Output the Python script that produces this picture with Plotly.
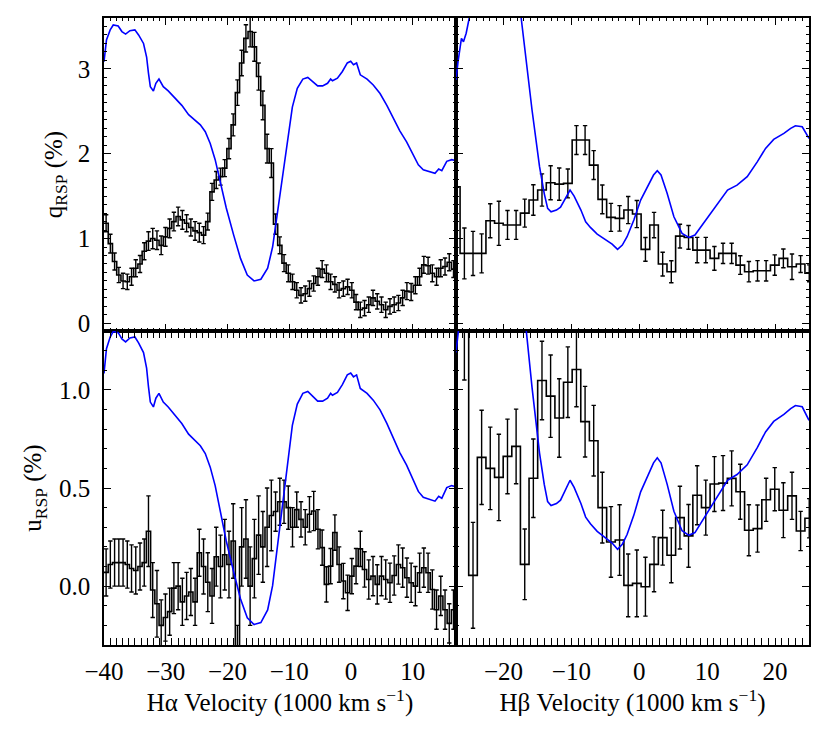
import numpy as np
import plotly.graph_objects as go

# ---------------- data ----------------
# H-alpha bins (1000 km/s)
HA_BIN_START = -40.0
HA_BIN_WIDTH = 0.686
q_ha = [1.18, 0.94, 0.73, 0.57, 0.50, 0.49, 0.55, 0.65, 0.70, 0.85, 0.97, 1.00, 0.98, 0.92, 1.02,
        1.12, 1.20, 1.26, 1.22, 1.18, 1.13, 1.09, 1.07, 1.04, 1.20, 1.55, 1.69, 1.73, 1.83, 2.06,
        2.34, 2.72, 3.07, 3.36, 3.44, 3.26, 2.91, 2.57, 2.06, 1.89, 1.17,
        0.92, 0.71, 0.59, 0.49, 0.39, 0.33, 0.35, 0.41, 0.47, 0.55, 0.64, 0.59, 0.49, 0.46, 0.39,
        0.41, 0.43, 0.39, 0.25, 0.16, 0.18, 0.22, 0.30, 0.26, 0.22, 0.16, 0.20, 0.22, 0.24, 0.30,
        0.38, 0.37, 0.45, 0.55, 0.69, 0.68, 0.59, 0.55, 0.65, 0.67, 0.72, 0.64, 0.49]
q_ha_err = [0.10, 0.11, 0.10, 0.09, 0.09, 0.09, 0.10, 0.10, 0.10, 0.10, 0.11, 0.12, 0.11, 0.11, 0.11,
            0.11, 0.11, 0.11, 0.11, 0.10, 0.10, 0.11, 0.11, 0.10, 0.10,
            0.10, 0.10, 0.10, 0.10, 0.12, 0.13, 0.15, 0.15, 0.16, 0.18, 0.17, 0.16, 0.17, 0.17, 0.17, 0.12,
            0.10, 0.10, 0.10, 0.09, 0.09, 0.09, 0.09, 0.09, 0.09, 0.10, 0.10, 0.10, 0.09, 0.09, 0.09,
            0.09, 0.09, 0.09, 0.09, 0.09, 0.09, 0.09, 0.09, 0.09, 0.09, 0.09, 0.09, 0.09, 0.09, 0.09,
            0.10, 0.10, 0.10, 0.10, 0.10, 0.10, 0.10, 0.10, 0.10, 0.10, 0.10, 0.10, 0.10]
u_ha = [0.07, 0.11, 0.12, 0.12, 0.12, 0.11, 0.09, 0.08, 0.10, 0.12, 0.28, -0.02, -0.09, -0.20, -0.16,
        -0.13, -0.01, 0.00, -0.08, -0.05, -0.03, -0.08, 0.17, 0.10, 0.02, -0.05, 0.15, 0.10, 0.16, 0.11,
        0.23, -0.40, 0.20, 0.24, 0.00, 0.14, 0.26, 0.20, 0.30, 0.36,
        0.38, 0.43, 0.43, 0.40, 0.30, 0.39, 0.34, 0.30, 0.366, 0.383, 0.29, 0.196, 0.009, 0.102, 0.273,
        0.11, 0.026, -0.034, 0.051, 0.102, 0.19, 0.085, 0.034, 0.051, 0.009, 0.051, 0.034, 0.017, 0.054,
        0.11, 0.094, 0.043, 0.017, 0.0, 0.068, 0.094, 0.068, -0.017, -0.12, -0.05, -0.12, -0.19, -0.12, -0.15]
u_ha_err = [0.12, 0.12, 0.12, 0.12, 0.12, 0.12, 0.12, 0.12, 0.12, 0.12, 0.18,
            0.14, 0.17, 0.13, 0.12, 0.12, 0.13, 0.12, 0.12, 0.12, 0.12, 0.12,
            0.12, 0.14, 0.15, 0.14, 0.15, 0.16, 0.18, 0.17, 0.19, 0.20, 0.20, 0.20, 0.20, 0.20, 0.20, 0.18, 0.20, 0.18,
            0.10, 0.12, 0.11, 0.11, 0.10, 0.09, 0.09, 0.09, 0.09, 0.10, 0.10, 0.09, 0.09, 0.09, 0.09,
            0.09, 0.09, 0.09, 0.09, 0.09, 0.09, 0.09, 0.10, 0.10, 0.10, 0.10, 0.10, 0.10, 0.10, 0.10,
            0.10, 0.10, 0.10, 0.10, 0.10, 0.10, 0.10, 0.10, 0.10, 0.10, 0.10, 0.10, 0.10, 0.10]

# H-beta bins (1000 km/s)
HB_BIN_START = -27.67
HB_BIN_WIDTH = 1.27
q_hb = [1.61, 0.825, 0.825, 0.825, 1.21, 1.18, 1.16, 1.16, 1.30, 1.454, 1.572, 1.658, 1.642, 1.65,
        2.161, 2.161, 1.866, 1.462, 1.249, 1.238, 1.336, 1.289, 0.872, 1.159, 0.699, 0.609, 1.029,
        1.013, 0.864, 0.864, 0.766, 0.825, 0.825, 0.687, 0.609, 0.62, 0.62, 0.687, 0.766, 0.667,
        0.699, 0.59]
q_hb_err = [0.30, 0.30, 0.26, 0.23, 0.20, 0.26, 0.17, 0.17, 0.165, 0.18, 0.19, 0.20, 0.19, 0.17,
            0.17, 0.17, 0.17, 0.17, 0.165, 0.15, 0.16, 0.16, 0.14, 0.15, 0.14, 0.13, 0.14,
            0.14, 0.15, 0.15, 0.14, 0.12, 0.12, 0.11, 0.12, 0.12, 0.12, 0.12, 0.11, 0.15,
            0.10, 0.10]
u_hb = [1.45, 1.60, 0.055, 0.656, 0.600, 0.554, 0.661, 0.712, 0.111, 0.550, 1.048, 0.968, 0.857,
        1.039, 1.104, 0.838, 0.741, 0.400, 0.225, 0.235, 0.004, 0.014, -0.003, 0.111, 0.247, 0.157,
        0.349, 0.256, 0.463, 0.400, 0.520, 0.525, 0.549, 0.481, 0.285, 0.293, 0.440, 0.494, 0.387,
        0.460, 0.281, 0.346]
u_hb_err = [0.35, 0.55, 0.27, 0.24, 0.21, 0.22, 0.19, 0.19, 0.18, 0.20, 0.20, 0.21, 0.20, 0.18,
            0.19, 0.18, 0.18, 0.18, 0.18, 0.18, 0.16, 0.17, 0.15, 0.14, 0.14, 0.14, 0.16, 0.16,
            0.15, 0.14, 0.14, 0.14, 0.14, 0.14, 0.13, 0.12, 0.11, 0.11, 0.14, 0.12, 0.10, 0.10]

# flux spectra (scaled to the q panels)
ha_vel = [-40.0, -39.6, -39.0, -38.5, -37.7, -37.1, -36.5, -35.8, -35.0, -34.4, -33.6, -33.1, -32.8,
          -32.5, -32.0, -31.6, -31.1, -30.4, -29.6, -28.5, -27.4, -26.3, -25.2, -24.4, -23.6, -22.8,
          -22.0, -21.2, -20.2, -19.0, -17.9, -16.8, -15.7, -14.6, -13.5, -12.7, -11.9, -11.1, -10.3,
          -9.5, -8.7, -7.8, -7.0, -6.2, -5.4, -4.6, -3.8, -3.3, -3.0, -2.2, -1.4, -0.6, -0.05, 0.4,
          0.9, 1.5, 2.6, 3.6, 4.7, 5.8, 6.9, 7.9, 9.0, 10.1, 10.9, 11.7, 12.8, 13.6, 14.2, 14.7,
          15.5, 16.3, 16.9, 17.1]
ha_flux = [3.085, 3.34, 3.46, 3.518, 3.505, 3.44, 3.41, 3.45, 3.46, 3.40, 3.30, 3.14, 2.95, 2.79,
           2.74, 2.83, 2.88, 2.79, 2.74, 2.65, 2.57, 2.46, 2.39, 2.34, 2.26, 2.12, 1.93, 1.67, 1.36,
           1.04, 0.766, 0.57, 0.50, 0.52, 0.65, 0.90, 1.30, 1.73, 2.16, 2.55, 2.77, 2.88, 2.90, 2.85,
           2.80, 2.80, 2.83, 2.88, 2.86, 2.89, 2.97, 3.07, 3.09, 3.05, 3.07, 2.93, 2.88, 2.81, 2.71,
           2.57, 2.42, 2.27, 2.14, 1.98, 1.87, 1.81, 1.79, 1.77, 1.82, 1.80, 1.91, 1.93, 1.92, 1.90]
hb_vel = [-27.0, -26.7, -26.2, -25.9, -25.5, -25.0, -23.0, -21.0, -19.0, -17.4, -15.8, -14.7, -14.0,
          -13.5, -13.0, -12.2, -11.6, -10.8, -10.2, -9.6, -8.6, -7.9, -7.2, -6.2, -4.7, -4.0, -3.2,
          -2.5, -1.8, -0.8, 0.2, 1.2, 2.1, 2.65, 3.2, 4.1, 5.1, 6.3, 7.3, 8.2, 9.0, 10.5, 12.0, 13.0,
          14.4, 15.9, 17.4, 18.6, 19.8, 21.3, 22.3, 23.0, 24.0, 24.75, 25.0]
hb_flux = [2.87, 3.085, 3.36, 3.32, 3.42, 3.62, 4.0, 4.2, 4.0, 3.6, 2.515, 1.85, 1.53, 1.355, 1.316,
           1.336, 1.37, 1.485, 1.572, 1.50, 1.336, 1.198, 1.131, 1.053, 0.974, 0.935, 0.872, 0.923,
           1.021, 1.218, 1.454, 1.619, 1.749, 1.80, 1.749, 1.533, 1.257, 1.06, 1.013, 1.041, 1.131,
           1.296, 1.474, 1.572, 1.63, 1.729, 1.906, 2.063, 2.169, 2.24, 2.299, 2.33, 2.318, 2.22, 2.18]

# ---------------- styling ----------------
FONT = "Liberation Serif, Times New Roman, DejaVu Serif, serif"
BLACK = "#000000"
BLUE = "#0000ff"
Q_RANGE = [-0.09, 3.6]
U_RANGE = [-0.3, 1.3]
HA_RANGE = [-40, 17]
HB_RANGE = [-27, 25]
# linear mapping of the flux (q-units) into the u panels: u = a*f + b
HA_SCALE = (0.4949, -0.443)
HB_SCALE = (0.502, -0.2497)

XSPLIT = 352 / 705
YSPLIT = 314 / 627


def edges(start, width, n):
    return start + width * np.arange(n + 1)


def hist_traces(start, width, vals, errs, xa, ya):
    e = edges(start, width, len(vals))
    c = 0.5 * (e[:-1] + e[1:])
    step = go.Scatter(x=e, y=list(vals) + [vals[-1]], mode="lines", line=dict(shape="hv", color=BLACK, width=1.6),
                      xaxis=xa, yaxis=ya, showlegend=False, hoverinfo="skip")
    bars = go.Scatter(x=c, y=vals, mode="markers", marker=dict(size=0, color="rgba(0,0,0,0)"),
                      error_y=dict(type="data", array=errs, color=BLACK, thickness=1.4, width=2.2),
                      xaxis=xa, yaxis=ya, showlegend=False, hoverinfo="skip")
    return [step, bars]


fig = go.Figure()
for t in hist_traces(HA_BIN_START, HA_BIN_WIDTH, q_ha, q_ha_err, "x", "y"):
    fig.add_trace(t)
fig.add_trace(go.Scatter(x=ha_vel, y=ha_flux, mode="lines", line=dict(color=BLUE, width=1.6),
                         xaxis="x", yaxis="y", showlegend=False))
for t in hist_traces(HB_BIN_START, HB_BIN_WIDTH, q_hb, q_hb_err, "x2", "y2"):
    fig.add_trace(t)
fig.add_trace(go.Scatter(x=hb_vel, y=hb_flux, mode="lines", line=dict(color=BLUE, width=1.6),
                         xaxis="x2", yaxis="y2", showlegend=False))
for t in hist_traces(HA_BIN_START, HA_BIN_WIDTH, u_ha, u_ha_err, "x3", "y3"):
    fig.add_trace(t)
fig.add_trace(go.Scatter(x=ha_vel, y=ha_flux, mode="lines", line=dict(color=BLUE, width=1.6),
                         xaxis="x3", yaxis="y5", showlegend=False))
for t in hist_traces(HB_BIN_START, HB_BIN_WIDTH, u_hb, u_hb_err, "x4", "y4"):
    fig.add_trace(t)
fig.add_trace(go.Scatter(x=hb_vel, y=hb_flux, mode="lines", line=dict(color=BLUE, width=1.6),
                         xaxis="x4", yaxis="y6", showlegend=False))

TICKFONT = dict(family=FONT, size=25, color=BLACK)
TITLEFONT = dict(family=FONT, size=25, color=BLACK)
common = dict(showline=True, linecolor=BLACK, linewidth=1.5, mirror="allticks", ticks="inside",
              ticklen=7, tickwidth=1.3, tickcolor=BLACK, showgrid=False, zeroline=False,
              automargin=False, tickfont=TICKFONT)
xminor = dict(dtick=1, ticklen=3.5, tickwidth=1, tickcolor=BLACK, ticks="inside", showgrid=False)
yminor = dict(dtick=0.1, ticklen=3.5, tickwidth=1, tickcolor=BLACK, ticks="inside", showgrid=False)

fig.update_layout(
    width=830, height=738,
    margin=dict(l=104, r=21, t=18, b=93),
    paper_bgcolor="white", plot_bgcolor="white",
    font=dict(family=FONT, size=25, color=BLACK),
    xaxis=dict(domain=[0, XSPLIT], anchor="y", range=HA_RANGE, dtick=10, tick0=0,
               showticklabels=False, minor=xminor, **common),
    yaxis=dict(domain=[YSPLIT, 1], anchor="x", range=Q_RANGE, dtick=1, tick0=0, minor=yminor,
               ticklabelstandoff=7,
               title=dict(text="q<sub>RSP</sub> (%)", standoff=8, font=TITLEFONT), **common),
    xaxis2=dict(domain=[XSPLIT, 1], anchor="y2", range=HB_RANGE, dtick=10, tick0=0,
                showticklabels=False, minor=xminor, **common),
    yaxis2=dict(domain=[YSPLIT, 1], anchor="x2", range=Q_RANGE, dtick=1, tick0=0, minor=yminor,
                showticklabels=False, **common),
    xaxis3=dict(domain=[0, XSPLIT], anchor="y3", range=HA_RANGE, dtick=10, tick0=0, minor=xminor,
                ticklabelstandoff=3,
                title=dict(text="H\u03b1 Velocity (1000 km s<sup>\u22121</sup>)", standoff=0,
                           font=TITLEFONT), **common),
    yaxis3=dict(domain=[0, YSPLIT], anchor="x3", range=U_RANGE, dtick=0.5, tick0=0, tickformat=".1f",
                minor=yminor, ticklabelstandoff=7,
                title=dict(text="u<sub>RSP</sub> (%)", standoff=10, font=TITLEFONT), **common),
    xaxis4=dict(domain=[XSPLIT, 1], anchor="y4", range=HB_RANGE, dtick=10, tick0=0, minor=xminor,
                ticklabelstandoff=3,
                title=dict(text="H\u03b2 Velocity (1000 km s<sup>\u22121</sup>)", standoff=0,
                           font=TITLEFONT), **common),
    yaxis4=dict(domain=[0, YSPLIT], anchor="x4", range=U_RANGE, dtick=0.5, tick0=0, minor=yminor,
                showticklabels=False, **common),
    yaxis5=dict(overlaying="y3", anchor="x3", visible=False,
                range=[(U_RANGE[0] - HA_SCALE[1]) / HA_SCALE[0], (U_RANGE[1] - HA_SCALE[1]) / HA_SCALE[0]]),
    yaxis6=dict(overlaying="y4", anchor="x4", visible=False,
                range=[(U_RANGE[0] - HB_SCALE[1]) / HB_SCALE[0], (U_RANGE[1] - HB_SCALE[1]) / HB_SCALE[0]]),
)

fig.write_html("out.html", config={"displayModeBar": False},
               post_script="document.body.style.margin='0px';document.body.style.padding='0px';")
